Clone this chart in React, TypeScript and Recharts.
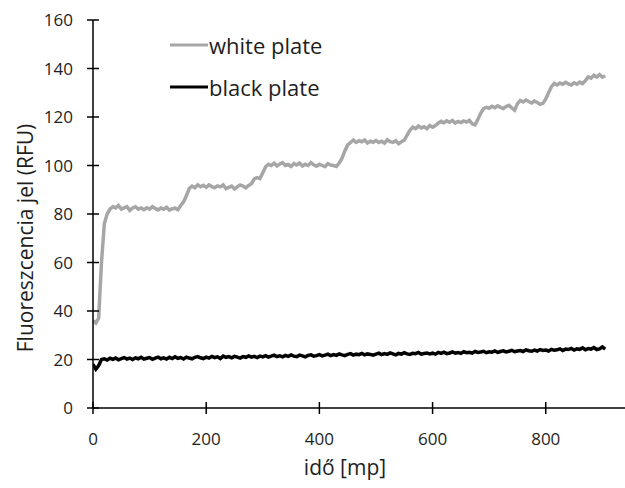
import { LineChart, Line, XAxis, YAxis } from "recharts";

// time [s], sampled every 5 s
const times: number[] = Array.from({ length: 182 }, (_, i) => i * 5);

const whitePlate: number[] = [
  36, 35, 37, 60, 76, 80, 82, 83, 82.5, 83.5, 82, 82.5, 83, 81.5, 82.5, 83, 82, 82.5, 81.8, 82.6,
  82, 83, 82.3, 81.7, 82.5, 82, 82.8, 81.6, 82.2, 82.4, 81.8, 83.5, 85, 87.5, 90.5, 91.5, 90.8, 92, 91.2, 91.8,
  91, 92, 91.3, 90.8, 91.6, 91.2, 92, 90.5, 91, 91.5, 90.3, 91.2, 92, 91.5, 90.8, 91.8, 92.5, 94.5, 95, 94.6,
  97, 99.5, 100.5, 100, 101, 99.8, 100.6, 101.2, 100, 100.4, 99.6, 100.8, 100.2, 101, 99.8, 100.5, 100, 101.2, 100.3, 99.7,
  100.5, 100, 99.5, 100.8, 100.2, 100, 99.6, 101, 103, 106, 108.5, 109.5, 110.5, 109.5, 110.2, 109.8, 110.5, 109.3, 110, 109.6,
  110.3, 109.5, 110, 109.2, 110.6, 109.8, 109.5, 110.2, 109, 109.8, 110.5, 112.5, 114.5, 115.8, 115.2, 116.3, 115.5, 116, 115.2, 116.5,
  115.8, 116.5, 117.5, 118.2, 117.6, 118.4, 117.8, 118.6, 117.5, 118.2, 117.7, 118.4, 117.9, 118.6, 117.2, 116.8, 119, 121.5, 123.5, 124,
  123.6, 124.4, 123.8, 124.6, 124, 123.5, 124.3, 124.8, 123.7, 122.8, 125.5, 126.8, 126.2, 127, 126.4, 125.8, 126.6, 126, 125.2, 125.6,
  127.5, 130, 132.5, 133.8, 133.2, 134, 133.5, 134.3, 133.6, 133.2, 134.1, 133.5, 134.4, 133.8, 135, 136.5, 136, 137.2, 136.5, 137.5,
  136.4, 137,
];

const blackPlate: number[] = [
  18, 16, 17.5, 20, 20.3, 19.8, 20.5, 20.1, 20.6, 19.9, 20.4, 20.8, 20.2, 20.6, 20, 20.7, 20.3, 20.9, 20.2, 20.5,
  20.8, 20.1, 20.6, 21, 20.3, 20.7, 20.2, 20.9, 20.4, 21.1, 20.5, 20.8, 20.2, 21, 20.6, 20.3, 20.9, 21.2, 20.7, 20.4,
  21, 20.6, 21.3, 20.8, 21.1, 20.4, 21.4, 20.9, 21.2, 20.7, 21.3, 21, 20.6, 21.2, 20.9, 21.5, 21, 21.3, 20.8, 21.4,
  21.1, 21.6, 21, 21.4, 21.8, 21.2, 21.5, 21.1, 21.7, 21.3, 21.9, 21.4, 21.2, 21.8, 21.5, 21.1, 21.7, 21.9, 21.4, 21.6,
  22, 21.5, 21.8, 22.2, 21.6, 22, 21.7, 22.3, 21.9, 21.6, 22.1, 22.4, 21.8, 22.2, 22, 22.5, 21.9, 22.3, 22.1, 21.8,
  22.2, 22.6, 22, 22.4, 22.1, 22.7, 22.3, 21.9, 22.5, 22.2, 22.8, 22.3, 22.1, 22.6, 22.4, 22.9, 22.2, 22.5, 22.7, 22.3,
  22.6, 22.2, 22.9, 22.5, 23, 22.4, 22.7, 23.1, 22.6, 22.9, 22.5, 23.2, 22.8, 23, 22.6, 23.3, 22.9, 23.1, 23.4, 22.8,
  23.2, 23, 23.5, 22.9, 23.3, 23.6, 23.1, 23.4, 23.8, 23.2, 23.5, 23.7, 23.3, 24, 23.6, 23.4, 23.9, 23.5, 24.1, 23.7,
  23.9, 23.5, 24.2, 23.8, 24, 24.4, 23.7, 24.3, 24.1, 24.6, 23.9, 24.4, 24.2, 24.8, 24, 24.5, 24.3, 24.9, 24.1, 24.4,
  25.2, 24.3,
];

const xTicks = [0, 200, 400, 600, 800];
const yTicks = [0, 20, 40, 60, 80, 100, 120, 140, 160];
const seriesNames = ["white plate", "black plate"];

const data = times.map((t, i) => ({ t, white: whitePlate[i], black: blackPlate[i] }));

const FONT = "'Open Sans', sans-serif";
const GRAY = "#a6a6a6";
const TEXT = "#1e1e1e";

const YTick = ({ x, y, payload }: any) => (
  <g>
    <line x1={x - 6} x2={x + 6} y1={y} y2={y} stroke="#000" strokeWidth={1.5} />
    <text x={x - 20} y={y + 6} textAnchor="end" fontSize={17} fontFamily={FONT} fill={TEXT}>
      {payload.value}
    </text>
  </g>
);

const XTick = ({ x, y, payload }: any) => (
  <g>
    <line x1={x} x2={x} y1={y - 6} y2={y + 6} stroke="#000" strokeWidth={1.5} />
    <text x={x} y={y + 37} textAnchor="middle" fontSize={17} fontFamily={FONT} fill={TEXT}>
      {payload.value}
    </text>
  </g>
);

export default function App() {
  const legendColors = [GRAY, "#000"];
  return (
    <div style={{ position: "absolute", left: 0, top: 0, width: 625, height: 488, background: "#fff" }}>
      <LineChart width={625} height={488} data={data} margin={{ top: 20, right: 0, bottom: 20, left: 0 }}>
        <XAxis
          dataKey="t"
          type="number"
          domain={[0, 940]}
          ticks={xTicks}
          tick={<XTick />}
          tickSize={0}
          tickMargin={0}
          tickLine={false}
          axisLine={{ stroke: "#000", strokeWidth: 1.5 }}
          height={60}
          allowDataOverflow
        />
        <YAxis
          type="number"
          domain={[0, 160]}
          ticks={yTicks}
          tick={<YTick />}
          tickSize={0}
          tickMargin={0}
          tickLine={false}
          axisLine={{ stroke: "#000", strokeWidth: 1.5 }}
          width={93}
          interval={0}
        />
        <Line type="linear" dataKey="white" stroke={GRAY} strokeWidth={3.5} dot={false} isAnimationActive={false} />
        <Line type="linear" dataKey="black" stroke="#000" strokeWidth={3.5} dot={false} isAnimationActive={false} />
        {seriesNames.map((name, i) => (
          <g key={name}>
            <line x1={170} x2={208} y1={45 + i * 42} y2={45 + i * 42} stroke={legendColors[i]} strokeWidth={3} />
            <text x={209} y={45 + i * 42} dominantBaseline="central" fontSize={22} fontFamily={FONT} fill={TEXT}>
              {name}
            </text>
          </g>
        ))}
        <text x={25} y={238} transform="rotate(-90 25 238)" textAnchor="middle" dominantBaseline="central" fontSize={21} fontFamily={FONT} fill={TEXT}>
          Fluoreszcencia jel (RFU)
        </text>
        <text x={345} y={467} textAnchor="middle" dominantBaseline="central" fontSize={21} fontFamily={FONT} fill={TEXT}>
          idő [mp]
        </text>
      </LineChart>
    </div>
  );
}
